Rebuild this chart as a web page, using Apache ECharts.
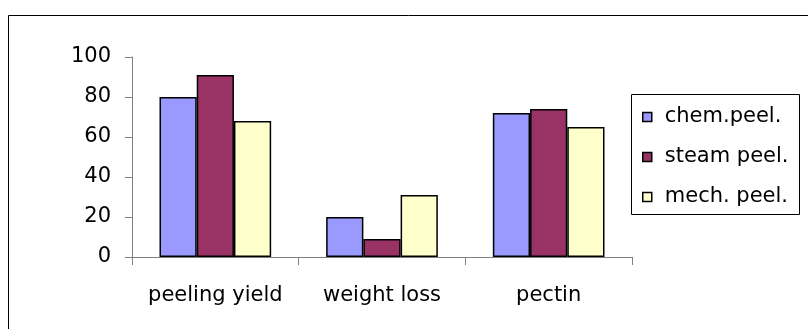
<!DOCTYPE html>
<html>
<head>
<meta charset="utf-8">
<script src="https://cdn.jsdelivr.net/npm/echarts@6/dist/echarts.min.js"></script>
<style>
  html, body { margin: 0; padding: 0; background: #fff; }
  #chart { width: 808px; height: 329px; }
</style>
</head>
<body>
<div id="chart"></div>
<script>
// Peeling method comparison
const categories = ['peeling yield', 'weight loss', 'pectin'];
const chemPeel = [80, 20, 72];
const steamPeel = [91, 9, 74];
const mechPeel = [68, 31, 65];
const yTicks = { min: 0, max: 100, interval: 20 };

const seriesDefs = [
  { name: 'chem.peel.', data: chemPeel, color: '#9999FF' },
  { name: 'steam peel.', data: steamPeel, color: '#993366' },
  { name: 'mech. peel.', data: mechPeel, color: '#FFFFCC' }
];

const FONT = 'DejaVu Sans';
const chart = echarts.init(document.getElementById('chart'), null, { renderer: 'canvas' });

chart.setOption({
  animation: false,
  backgroundColor: '#ffffff',
  grid: { left: 132, right: 176, top: 57, bottom: 72, containLabel: false },
  graphic: [
    { type: 'rect', shape: { x: 8.5, y: 15.5, width: 900, height: 400 },
      style: { fill: 'none', stroke: '#000', lineWidth: 1 }, silent: true, z: 0 },
    { type: 'rect', shape: { x: 631.5, y: 94.5, width: 168, height: 120 },
      style: { fill: '#fff', stroke: '#000', lineWidth: 1 }, silent: true, z: 1 }
  ],
  legend: {
    orient: 'vertical',
    left: 637,
    top: 101,
    itemWidth: 9,
    itemHeight: 9,
    itemGap: 18,
    icon: 'rect',
    itemStyle: { borderColor: '#000', borderWidth: 1.5 },
    textStyle: { fontFamily: FONT, fontSize: 21, color: '#000', lineHeight: 22, padding: [0, 0, 0, 8] },
    data: seriesDefs.map(s => s.name),
    z: 5
  },
  xAxis: {
    type: 'category',
    data: categories,
    axisLine: { lineStyle: { color: '#808080', width: 1 } },
    axisTick: { show: true, length: 8, lineStyle: { color: '#808080' } },
    axisLabel: { fontFamily: FONT, fontSize: 21, color: '#000', margin: 28, interval: 0 },
    splitLine: { show: false }
  },
  yAxis: {
    type: 'value',
    min: yTicks.min,
    max: yTicks.max,
    interval: yTicks.interval,
    axisLine: { show: true, lineStyle: { color: '#808080', width: 1 } },
    axisTick: { show: true, length: 7, lineStyle: { color: '#808080' } },
    axisLabel: { fontFamily: FONT, fontSize: 21, color: '#000', margin: 21 },
    splitLine: { show: false }
  },
  series: seriesDefs.map(s => ({
    name: s.name,
    type: 'bar',
    data: s.data,
    barGap: '0%',
    barCategoryGap: '33%',
    itemStyle: { color: s.color, borderColor: '#000', borderWidth: 1.5 }
  }))
});
</script>
</body>
</html>
